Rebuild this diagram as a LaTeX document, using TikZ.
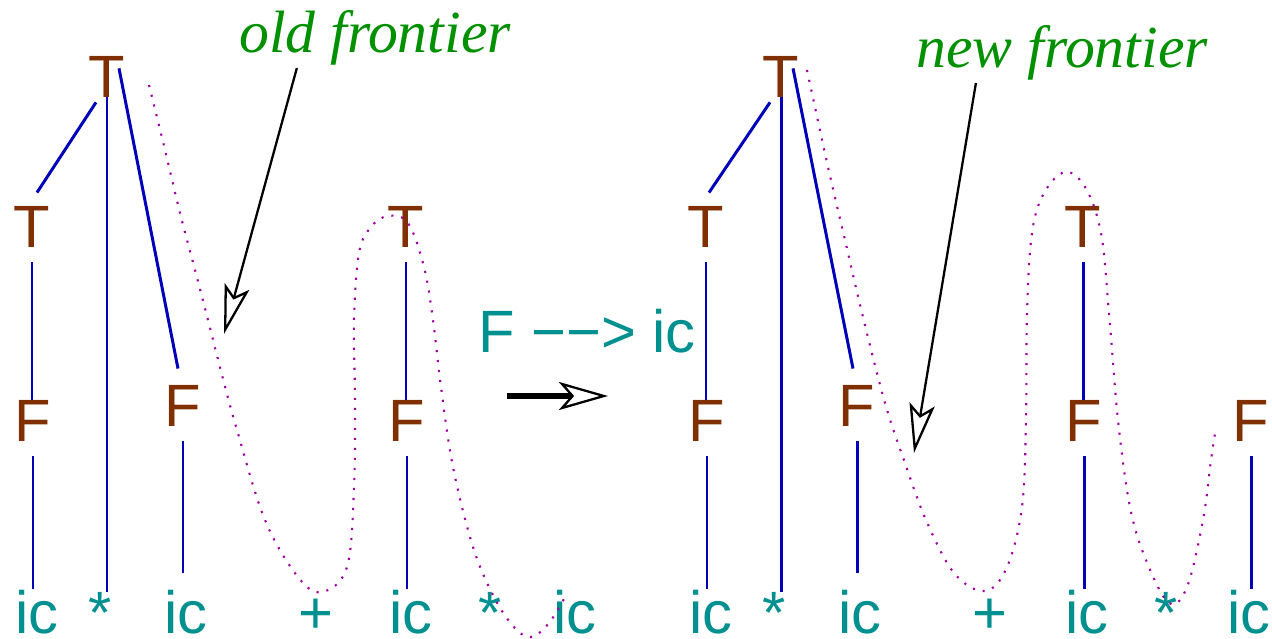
\documentclass[tikz,border=0pt]{standalone}
\usepackage{fontspec}
\setmainfont{Liberation Serif}
\setsansfont{Liberation Sans}
\usetikzlibrary{arrows.meta}
\definecolor{treebrown}{HTML}{803000}
\definecolor{treeteal}{HTML}{009090}
\definecolor{treeblue}{HTML}{0000B8}
\definecolor{notegreen}{HTML}{009000}
\definecolor{frontmag}{HTML}{A000A0}
\tikzset{
  sym/.style={inner sep=0pt, anchor=base, font=\sffamily\fontsize{34}{40}\selectfont},
  nonterm/.style={sym, text=treebrown},
  term/.style={sym, text=treeteal},
  edge/.style={treeblue, line width=1.7pt},
  gap/.style={shorten <=8.5pt},
  frontier/.style={frontmag, line width=1.2pt, dash pattern=on 1.2pt off 4.5pt},
  note/.style={inner sep=0pt, anchor=base, text=notegreen, font=\itshape\fontsize{34}{40}\selectfont},
  pointer/.style={line width=1.3pt, -{Stealth[open, length=28pt, width=14.5pt, inset=6pt, line width=1.3pt]}},
  bigarrow/.style={line width=3.8pt, -{Stealth[open, length=28pt, width=16pt, inset=7pt, line width=1.3pt]}}
}
\begin{document}
\begin{tikzpicture}[x=0.02cm, y=-0.02cm]
  \useasboundingbox (0,0) rectangle (1272,639);
  % old tree
  \node[nonterm] (rootA) at (107,97) {T};
  \node[nonterm] (tlA) at (32,247) {T};
  \node[nonterm] (trA) at (406,247) {T};
  \node[nonterm] (flA) at (33,441) {F};
  \node[nonterm] (fmA) at (183,426) {F};
  \node[nonterm] (frA) at (407,441) {F};
  \node[term] (icA1) at (37,633) {ic};
  \node[term] (stA1) at (100,633) {*};
  \node[term] (icA2) at (186,633) {ic};
  \node[term] (plA) at (316,633) {+};
  \node[term] (icA3) at (411,633) {ic};
  \node[term] (stA2) at (490,633) {*};
  \node[term] (icA4) at (575,633) {ic};
  \draw[edge] ([shift={(-11,5)}]rootA.south) -- ([shift={(5,-13)}]tlA.north);
  \draw[edge] (rootA.south) -- (rootA.south |- stA1.north);
  \draw[edge] ([shift={(12,-29)}]rootA.south) -- ([shift={(-5,-16)}]fmA.north);
  \draw[edge,gap] (tlA.south) -- (tlA.south |- flA.north);
  \draw[edge,gap] (flA.south) -- (flA.south |- icA1.north);
  \draw[edge,gap,shorten >=9.6pt] (fmA.south) -- (fmA.south |- icA2.north);
  \draw[edge,gap] (trA.south) -- (trA.south |- frA.north);
  \draw[edge,gap] (frA.south) -- (frA.south |- icA3.north);
  \draw[frontier] plot[smooth, tension=0.6] coordinates {(149,85) (165,150) (180,213)
    (195,270) (208,320) (222,375) (237,430) (265,520) (298,577) (322,592) (347,567)
    (354,487) (355,400) (354,320) (359,253) (371,227) (388,216) (408,223) (424,267)
    (433,320) (441,387) (453,467) (473,547) (494,597) (514,627) (531,637) (549,623) (565,597)};
  \node[note] (oldlbl) at (375,52) {old frontier};
  \coordinate (oldtip) at (224,334);
  \draw[pointer] ([shift={(58,3)}]oldlbl.south west) -- (oldtip);
  % rule
  \node[term] (rule) at (587,352) {F −−> ic};
  \coordinate (stepfrom) at (507,396);
  \coordinate (stepto) at (608,396);
  \draw[bigarrow] (stepfrom) -- (stepto);
  % new tree
  \node[nonterm] (rootB) at (781,97) {T};
  \node[nonterm] (tlB) at (706,247) {T};
  \node[nonterm] (trB) at (1083,247) {T};
  \node[nonterm] (flB) at (707,441) {F};
  \node[nonterm] (fmB) at (857,426) {F};
  \node[nonterm] (frB) at (1084,441) {F};
  \node[nonterm] (fxB) at (1251,441) {F};
  \node[term] (icB1) at (711,633) {ic};
  \node[term] (stB1) at (774,633) {*};
  \node[term] (icB2) at (860,633) {ic};
  \node[term] (plB) at (990,633) {+};
  \node[term] (icB3) at (1087,633) {ic};
  \node[term] (stB2) at (1166,633) {*};
  \node[term] (icB4) at (1249,633) {ic};
  \draw[edge] ([shift={(-11,5)}]rootB.south) -- ([shift={(3,-13)}]tlB.north);
  \draw[edge] (rootB.south) -- (rootB.south |- stB1.north);
  \draw[edge] ([shift={(12,-29)}]rootB.south) -- ([shift={(-4,-16)}]fmB.north);
  \draw[edge,gap] (tlB.south) -- (tlB.south |- flB.north);
  \draw[edge,gap] (flB.south) -- (flB.south |- icB1.north);
  \draw[edge,gap,shorten >=9.6pt] (fmB.south) -- (fmB.south |- icB2.north);
  \draw[edge,gap] (trB.south) -- (trB.south |- frB.north);
  \draw[edge,gap] (frB.south) -- (frB.south |- icB3.north);
  \draw[edge,gap] (fxB.south) -- (fxB.south |- icB4.north);
  \draw[frontier] plot[smooth, tension=0.6] coordinates {(807,70) (828,167) (845,240)
    (862,313) (885,403) (905,463) (926,520) (954,573) (985,591) (1007,567) (1022,507)
    (1026,420) (1027,313) (1032,233) (1044,193) (1065,172) (1085,187) (1101,233)
    (1109,313) (1118,420) (1130,507) (1146,560) (1169,603) (1187,587) (1203,520)
    (1211,460) (1216,427)};
  \node[note] (newlbl) at (1062,67) {new frontier};
  \coordinate (newtip) at (914,453);
  \draw[pointer] ([shift={(60,3)}]newlbl.south west) -- (newtip);
\end{tikzpicture}
\end{document}
